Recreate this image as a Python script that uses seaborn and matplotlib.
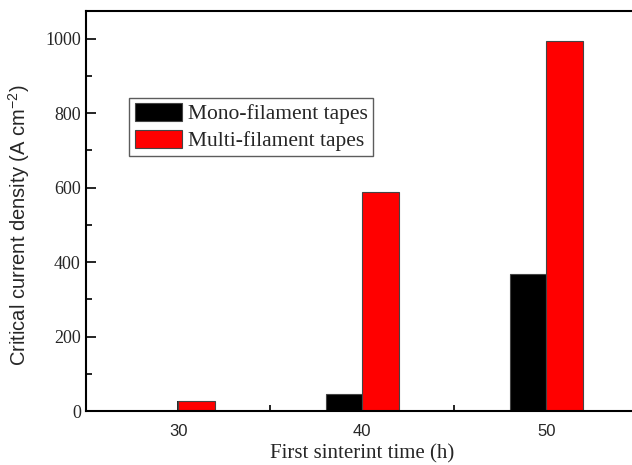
import matplotlib
matplotlib.use("Agg")
import matplotlib.pyplot as plt
from matplotlib.ticker import MultipleLocator
import seaborn as sns
import pandas as pd

# Sintering times (h) and critical current densities (A cm^-2)
times = [30, 40, 50]
mono_jc = [0, 46, 367]
multi_jc = [28, 588, 993]
series_names = ["Mono-filament tapes", "Multi-filament tapes"]
series_colors = ["#000000", "#ff0000"]

df = pd.DataFrame({
    "time": times * 2,
    "jc": mono_jc + multi_jc,
    "tape": [series_names[0]] * len(times) + [series_names[1]] * len(times),
})

sns.set_style("white")
plt.rcParams["font.family"] = ["Liberation Serif", "DejaVu Serif"]
plt.rcParams["mathtext.fontset"] = "custom"
plt.rcParams["mathtext.rm"] = "Liberation Sans"

fig = plt.figure(figsize=(6.32, 4.65), dpi=100)
ax = fig.add_axes([0.1366, 0.1161, 0.8734, 0.861])

sns.barplot(
    data=df, x="time", y="jc", hue="tape", hue_order=series_names,
    palette=series_colors, native_scale=True, width=0.4, dodge=True,
    edgecolor="#444444", linewidth=0.8, saturation=1, errorbar=None, ax=ax,
)

ax.set_xlim(25, 55)
ax.set_ylim(0, 1075)
ax.xaxis.set_major_locator(MultipleLocator(10))
ax.xaxis.set_minor_locator(MultipleLocator(5))
ax.yaxis.set_major_locator(MultipleLocator(200))
ax.yaxis.set_minor_locator(MultipleLocator(100))

ax.tick_params(axis="both", which="both", direction="in", top=False, right=False,
               bottom=True, left=True, width=1.2, color="black")
ax.tick_params(axis="both", which="major", length=7)
ax.tick_params(axis="both", which="minor", length=4)
ax.tick_params(axis="x", pad=9)
ax.tick_params(axis="y", pad=4)

for lbl in ax.get_xticklabels():
    lbl.set_fontfamily("Liberation Sans")
    lbl.set_fontsize(12)
for lbl in ax.get_yticklabels():
    lbl.set_fontfamily("Liberation Serif")
    lbl.set_fontsize(13)

for side in ["left", "bottom", "top", "right"]:
    ax.spines[side].set_visible(True)
    ax.spines[side].set_color("black")
    ax.spines[side].set_linewidth(1.5)

ax.set_xlabel("First sinterint time (h)", fontsize=15, family="Liberation Serif", labelpad=4)
ax.set_ylabel("Critical current density (A cm$^{-2}$)", fontsize=14.5,
              family="Liberation Sans")
ax.yaxis.set_label_coords(-0.098, 0.465)

leg = ax.legend(loc="upper left", bbox_to_anchor=(0.078, 0.783), fontsize=15.5,
                frameon=True, fancybox=False, handlelength=2.2, handleheight=0.9,
                handletextpad=0.25, borderpad=0.25, labelspacing=0.25,
                borderaxespad=0)
leg.get_frame().set_edgecolor("#333333")
leg.get_frame().set_linewidth(1.0)
for txt in leg.get_texts():
    txt.set_fontfamily("Liberation Serif")

fig.savefig("out.png", dpi=100)
